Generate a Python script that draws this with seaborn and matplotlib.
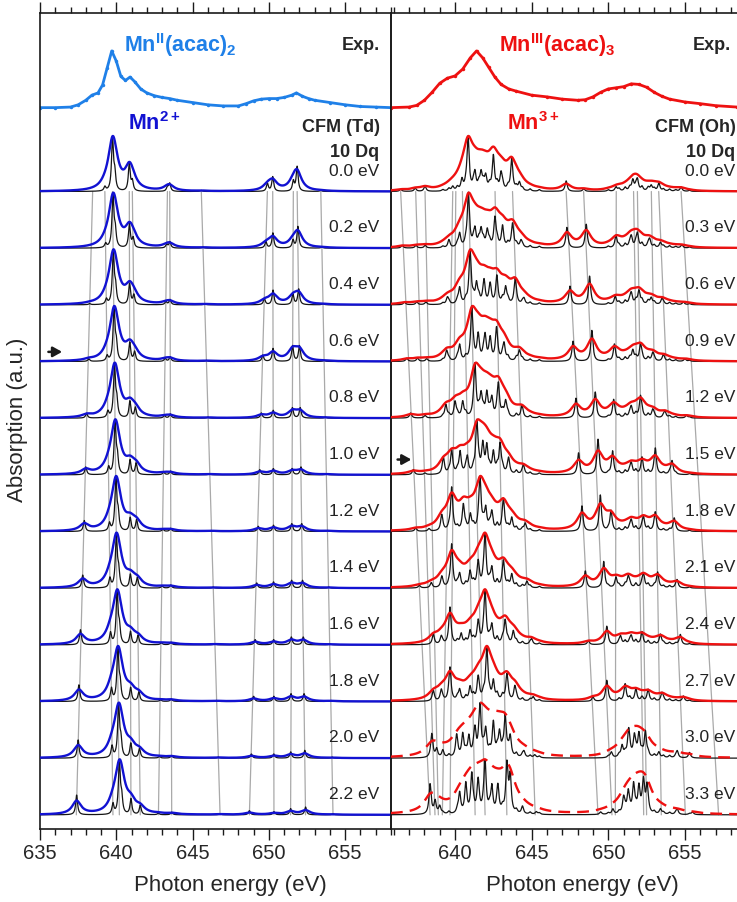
import numpy as np
import seaborn as sns
import matplotlib.pyplot as plt
from matplotlib.ticker import MultipleLocator

# ---------------- data ----------------
td_labels = ['0.0 eV', '0.2 eV', '0.4 eV', '0.6 eV', '0.8 eV', '1.0 eV',
             '1.2 eV', '1.4 eV', '1.6 eV', '1.8 eV', '2.0 eV', '2.2 eV']
oh_labels = ['0.0 eV', '0.3 eV', '0.6 eV', '0.9 eV', '1.2 eV', '1.5 eV',
             '1.8 eV', '2.1 eV', '2.4 eV', '2.7 eV', '3.0 eV', '3.3 eV']

# experimental spectra (normalised, read point by point)
exp2_e = [635, 636, 637, 637.5, 638, 638.4, 638.8, 639.1, 639.4, 639.7, 640.0, 640.3,
          640.6, 640.9, 641.2, 641.6, 642, 642.5, 643, 643.5, 644, 645, 646, 647, 648,
          648.5, 649, 649.5, 650, 650.5, 651, 651.5, 651.8, 652.2, 652.6, 653, 654,
          655, 656, 657, 658]
exp2_y = [0.0, 0.0, 0.01, 0.05, 0.13, 0.22, 0.26, 0.4, 0.7, 1.0, 0.82, 0.55,
          0.48, 0.54, 0.46, 0.33, 0.26, 0.21, 0.18, 0.16, 0.13, 0.09, 0.05, 0.03, 0.03,
          0.07, 0.12, 0.15, 0.16, 0.16, 0.18, 0.22, 0.26, 0.2, 0.16, 0.13, 0.09,
          0.05, 0.02, 0.01, 0.0]
exp3_e = [635.8, 637, 637.5, 638, 638.5, 639, 639.5, 640, 640.5, 641, 641.4, 641.8,
          642.2, 642.6, 643, 643.5, 644, 645, 646, 647, 648, 648.5, 649, 649.5, 650,
          650.5, 651, 651.5, 652, 652.5, 653, 653.5, 654, 655, 656, 657, 658.4]
exp3_y = [0.0, 0.01, 0.04, 0.13, 0.27, 0.43, 0.52, 0.56, 0.68, 0.88, 1.0, 0.88,
          0.71, 0.54, 0.41, 0.33, 0.29, 0.22, 0.19, 0.15, 0.13, 0.14, 0.19, 0.27, 0.33,
          0.35, 0.37, 0.42, 0.41, 0.36, 0.27, 0.2, 0.15, 0.1, 0.07, 0.035, 0.01]

# Td (Mn2+) multiplet lines: one row per 10Dq, one column per tracked line
td_pos = [
    [638.45, 639.25, 639.75, 639.90, 640.85, 641.05, 643.35, 643.50, 645.57, 649.90, 650.25, 651.60, 651.85, 653.40],
    [638.35, 639.30, 639.78, 639.93, 640.86, 641.10, 643.30, 643.51, 645.68, 649.80, 650.26, 651.58, 651.90, 653.47],
    [638.25, 639.35, 639.80, 639.95, 640.87, 641.15, 643.25, 643.52, 645.80, 649.70, 650.27, 651.57, 651.95, 653.55],
    [638.20, 639.40, 639.85, 640.00, 640.88, 641.20, 643.20, 643.53, 645.90, 649.60, 650.27, 651.55, 652.00, 653.62],
    [638.05, 639.45, 639.88, 640.03, 640.89, 641.25, 643.15, 643.54, 646.00, 649.50, 650.28, 651.54, 652.05, 653.70],
    [638.00, 639.50, 639.92, 640.07, 640.90, 641.30, 643.10, 643.55, 646.10, 649.40, 650.29, 651.52, 652.10, 653.77],
    [637.90, 639.55, 639.97, 640.12, 640.91, 641.33, 643.05, 643.56, 646.20, 649.30, 650.30, 651.50, 652.15, 653.85],
    [637.80, 639.58, 640.00, 640.15, 640.92, 641.38, 643.00, 643.57, 646.35, 649.20, 650.30, 651.49, 652.20, 653.92],
    [637.65, 639.62, 640.05, 640.20, 640.93, 641.43, 642.95, 643.58, 646.45, 649.10, 650.31, 651.47, 652.25, 654.00],
    [637.55, 639.68, 640.10, 640.25, 640.94, 641.48, 642.90, 643.60, 646.55, 649.00, 650.32, 651.45, 652.30, 654.07],
    [637.50, 639.72, 640.15, 640.30, 640.95, 641.52, 642.82, 643.62, 646.68, 648.85, 650.32, 651.43, 652.35, 654.15],
    [637.40, 639.78, 640.20, 640.35, 640.96, 641.57, 642.76, 643.63, 646.80, 648.72, 650.33, 651.42, 652.40, 654.20],
]
td_h = [
    [0.00, 0.08, 1.0, 0.30, 0.52, 0.18, 0.08, 0.15, 0.02, 0.15, 0.28, 0.19, 0.47, 0.02],
    [0.00, 0.08, 1.0, 0.30, 0.45, 0.18, 0.07, 0.12, 0.02, 0.12, 0.29, 0.15, 0.41, 0.02],
    [0.02, 0.10, 1.0, 0.30, 0.40, 0.18, 0.06, 0.10, 0.02, 0.12, 0.28, 0.20, 0.30, 0.02],
    [0.05, 0.10, 1.0, 0.30, 0.36, 0.18, 0.06, 0.09, 0.02, 0.12, 0.25, 0.30, 0.30, 0.02],
    [0.09, 0.12, 1.0, 0.30, 0.32, 0.20, 0.05, 0.08, 0.02, 0.10, 0.15, 0.20, 0.20, 0.02],
    [0.15, 0.14, 1.0, 0.30, 0.28, 0.22, 0.05, 0.07, 0.02, 0.10, 0.12, 0.12, 0.15, 0.02],
    [0.21, 0.15, 1.0, 0.30, 0.26, 0.22, 0.04, 0.06, 0.02, 0.10, 0.12, 0.15, 0.15, 0.02],
    [0.25, 0.18, 1.0, 0.30, 0.26, 0.20, 0.04, 0.06, 0.02, 0.10, 0.12, 0.15, 0.15, 0.02],
    [0.29, 0.22, 1.0, 0.30, 0.25, 0.18, 0.04, 0.05, 0.02, 0.10, 0.10, 0.15, 0.15, 0.02],
    [0.32, 0.24, 1.0, 0.30, 0.26, 0.18, 0.03, 0.05, 0.02, 0.10, 0.10, 0.15, 0.15, 0.02],
    [0.35, 0.22, 1.0, 0.30, 0.28, 0.18, 0.03, 0.05, 0.02, 0.08, 0.08, 0.12, 0.15, 0.02],
    [0.38, 0.20, 1.0, 0.30, 0.30, 0.18, 0.03, 0.05, 0.02, 0.08, 0.06, 0.12, 0.15, 0.02],
]

# Oh (Mn3+) multiplet lines, one row per 10Dq (rows have different lengths)
oh_pos = [
    [636.45, 637.4, 638.04, 639.85, 640.45, 640.85, 641.3, 641.7, 642.0, 642.5, 643.0, 643.7, 644.2, 647.25, 648.4, 650.5, 651.6, 651.9, 652.8, 653.3, 654.75],
    [636.55, 637.45, 638.05, 639.6, 640.3, 640.87, 641.3, 641.7, 642.1, 642.6, 643.1, 643.75, 644.3, 647.3, 648.56, 650.5, 651.5, 651.9, 652.7, 653.4, 654.8],
    [636.7, 637.5, 638.1, 639.5, 640.3, 640.98, 641.4, 641.9, 642.3, 642.72, 643.3, 643.92, 644.5, 647.5, 648.78, 650.45, 651.5, 652.0, 652.8, 653.5, 654.9],
    [636.85, 637.55, 638.15, 639.45, 640.3, 641.09, 641.5, 641.96, 642.3, 642.7, 643.2, 644.2, 647.7, 648.93, 650.4, 651.6, 652.1, 652.9, 653.6, 655.0],
    [637.1, 638.04, 639.4, 640.0, 640.5, 641.3, 641.7, 642.07, 642.4, 642.83, 643.3, 644.36, 647.89, 649.15, 650.35, 651.5, 652.1, 652.9, 653.7, 655.1],
    [637.28, 638.04, 639.24, 639.78, 640.33, 640.8, 641.42, 641.8, 642.07, 642.5, 642.94, 643.5, 644.47, 648.06, 649.33, 650.28, 651.5, 652.2, 653.07, 654.16],
    [637.43, 638.3, 639.13, 639.78, 640.54, 641.0, 641.63, 642.0, 642.4, 643.16, 643.7, 644.58, 648.28, 649.48, 650.18, 651.5, 652.3, 653.07, 654.3],
    [637.67, 638.45, 639.13, 639.78, 640.3, 640.98, 641.5, 641.96, 642.4, 643.16, 643.7, 644.69, 648.5, 649.7, 650.5, 651.3, 652.3, 653.22, 654.49],
    [638.58, 639.1, 639.67, 640.4, 640.98, 641.5, 641.96, 642.4, 643.27, 643.8, 645.0, 648.7, 649.9, 650.8, 651.5, 652.2, 653.4, 654.7],
    [638.58, 639.1, 639.67, 640.3, 640.98, 641.5, 642.07, 642.5, 643.38, 643.9, 645.1, 649.0, 649.9, 651.1, 651.8, 652.6, 653.5, 654.9],
    [638.48, 638.8, 639.2, 640.1, 640.5, 640.9, 641.3, 641.63, 642.0, 642.5, 642.9, 643.27, 643.6, 644.5, 645.2, 650.2, 650.9, 651.33, 651.7, 652.0, 652.42, 653.3, 654.5, 655.3],
    [638.37, 638.7, 639.0, 640.3, 640.7, 641.09, 641.5, 641.96, 642.4, 642.8, 643.38, 643.6, 644.4, 645.3, 649.5, 650.3, 651.0, 651.3, 651.65, 652.0, 652.3, 652.53, 653.4, 654.5, 655.5],
]
oh_h = [
    [0.04, 0.06, 0.1, 0.08, 0.2, 1.0, 0.3, 0.3, 0.25, 0.65, 0.3, 0.6, 0.15, 0.2, 0.05, 0.08, 0.2, 0.2, 0.1, 0.15, 0.08],
    [0.05, 0.05, 0.05, 0.1, 0.25, 1.0, 0.3, 0.3, 0.3, 0.54, 0.3, 0.45, 0.12, 0.39, 0.45, 0.23, 0.2, 0.25, 0.15, 0.1, 0.06],
    [0.05, 0.05, 0.05, 0.12, 0.3, 1.0, 0.35, 0.35, 0.3, 0.42, 0.3, 0.45, 0.1, 0.35, 0.54, 0.15, 0.2, 0.25, 0.12, 0.1, 0.05],
    [0.06, 0.06, 0.05, 0.2, 0.3, 1.0, 0.4, 0.45, 0.35, 0.54, 0.3, 0.2, 0.39, 0.6, 0.33, 0.2, 0.3, 0.15, 0.1, 0.05],
    [0.1, 0.05, 0.25, 0.3, 0.3, 1.0, 0.4, 0.45, 0.35, 0.6, 0.3, 0.2, 0.39, 0.51, 0.36, 0.2, 0.4, 0.15, 0.12, 0.05],
    [0.1, 0.03, 0.3, 0.45, 0.42, 0.3, 0.97, 0.45, 0.5, 0.4, 0.55, 0.25, 0.15, 0.42, 0.68, 0.45, 0.2, 0.25, 0.48, 0.26],
    [0.06, 0.05, 0.3, 0.85, 0.5, 0.3, 0.97, 0.4, 0.35, 0.56, 0.25, 0.15, 0.5, 0.71, 0.4, 0.2, 0.25, 0.35, 0.25],
    [0.05, 0.1, 0.2, 0.83, 0.25, 0.3, 0.4, 0.98, 0.35, 0.45, 0.25, 0.12, 0.33, 0.51, 0.2, 0.2, 0.25, 0.3, 0.15],
    [0.2, 0.15, 0.7, 0.2, 0.25, 0.35, 1.0, 0.35, 0.45, 0.25, 0.1, 0.08, 0.35, 0.15, 0.15, 0.17, 0.2, 0.2],
    [0.2, 0.2, 0.6, 0.2, 0.25, 0.35, 0.97, 0.35, 0.45, 0.25, 0.08, 0.08, 0.38, 0.25, 0.15, 0.15, 0.15, 0.1],
    [0.43, 0.15, 0.1, 0.35, 0.4, 0.35, 0.45, 0.84, 0.45, 0.6, 0.4, 0.7, 0.35, 0.1, 0.05, 0.1, 0.2, 0.46, 0.35, 0.4, 0.45, 0.1, 0.12, 0.08],
    [0.59, 0.25, 0.15, 0.4, 0.5, 0.73, 0.55, 0.97, 0.5, 0.45, 0.9, 0.7, 0.1, 0.05, 0.05, 0.1, 0.3, 0.4, 0.55, 0.5, 0.6, 0.5, 0.1, 0.1, 0.05],
]
# weak multiplet structure present in every Oh spectrum
oh_fine_pos = [639.2, 639.6, 640.15, 640.7, 641.2, 641.55, 641.85, 642.25, 642.75, 643.1,
               643.45, 644.0, 644.4, 644.9, 645.5, 650.0, 650.7, 651.1, 651.4, 651.8,
               652.2, 652.6, 653.0, 653.6, 654.0, 654.4, 655.3]
oh_fine_h = [0.03, 0.05, 0.07, 0.08, 0.1, 0.12, 0.12, 0.1, 0.12, 0.1,
             0.08, 0.07, 0.05, 0.04, 0.03, 0.03, 0.05, 0.07, 0.07, 0.08,
             0.08, 0.07, 0.05, 0.04, 0.04, 0.03, 0.02]

# grey guide lines: position at the first and last spectrum
td_grey_top = [638.45, 639.25, 639.75, 640.85, 641.05, 643.35, 643.5, 645.57, 649.9, 650.25, 651.6, 651.85, 653.4]
td_grey_bot = [637.38, 639.78, 640.2, 640.96, 641.57, 642.76, 643.63, 646.8, 648.72, 650.33, 651.42, 652.4, 654.2]
oh_grey_top = [636.45, 637.43, 638.04, 639.85, 640.05, 640.48, 640.87, 642.61, 643.75, 647.25, 648.39, 650.52, 651.65, 651.9, 652.81, 653.29, 654.75]
oh_grey_bot = [638.37, 638.69, 638.91, 639.17, 639.67, 641.31, 641.96, 643.38, 645.23, 649.33, 650.24, 650.46, 652.31, 652.5, 653.46, 655.03, 657.2]

# ---------------- style ----------------
sns.set_theme(style='white')
plt.rcParams['font.family'] = ['Liberation Sans', 'DejaVu Sans']
plt.rcParams['mathtext.fontset'] = 'custom'
plt.rcParams['mathtext.rm'] = 'Liberation Sans'
plt.rcParams['mathtext.bf'] = 'Liberation Sans:bold'

c_exp2 = '#1f80e8'
c_td = '#1212d2'
c_red = '#ee1111'
c_grey = '#a9a9a9'

egrid = np.arange(634.5, 659.0, 0.004)


def lor(pos, h, g, p=1.0):
    s = np.zeros_like(egrid)
    for x0, a in zip(pos, h):
        s += a ** p * g**2 / ((egrid - x0)**2 + g**2)
    return s


def base(k):
    return 0.25 + (11 - k)


exp_base = 12.73

fig = plt.figure(figsize=(7.37, 9.02), dpi=100)
axL = fig.add_axes([40 / 737, 1 - 829 / 902, 351 / 737, 816 / 902])
axR = fig.add_axes([391 / 737, 1 - 829 / 902, 346 / 737, 816 / 902])


def draw_panel(ax, pos_rows, h_rows, labels, col, lab_x, g_s, g_b, p_b,
               dashed_from=99, g_dash=0.5, fine_pos=(), fine_h=()):
    for k, (pos, h) in enumerate(zip(pos_rows, h_rows)):
        pp = list(pos) + list(fine_pos)
        hh = list(h) + list(fine_h)
        sharp = lor(pp, hh, g_s)
        dashed = k >= dashed_from
        broad = lor(pp, hh, g_dash if dashed else g_b, p=p_b)
        sns.lineplot(x=egrid, y=base(k) + 0.98 * sharp / sharp.max(), ax=ax,
                     color='#151515', lw=0.9, estimator=None, sort=False, zorder=3)
        ls = (0, (5, 3)) if dashed else '-'
        sns.lineplot(x=egrid, y=base(k) + 0.98 * broad / broad.max(), ax=ax,
                     color=col, lw=1.7, linestyle=ls, estimator=None, sort=False, zorder=4)
        ax.text(lab_x, base(k) + 0.36, labels[k], ha='right', va='center',
                fontsize=12.5, color='#222222', clip_on=False, zorder=5)


# grey guides
for t, b in zip(td_grey_top, td_grey_bot):
    axL.plot([t, b], [base(0), base(11)], color=c_grey, lw=0.9, zorder=1)
for t, b in zip(oh_grey_top, oh_grey_bot):
    axR.plot([t, b], [base(0), base(11)], color=c_grey, lw=0.9, zorder=1)

draw_panel(axL, td_pos, td_h, td_labels, c_td, 657.25, 0.075, 0.35, 1.2)
draw_panel(axR, oh_pos, oh_h, oh_labels, c_red, 658.3, 0.085, 0.38, 1.1,
           dashed_from=10, g_dash=0.5, fine_pos=oh_fine_pos, fine_h=oh_fine_h)

# experiments
sns.lineplot(x=exp2_e, y=exp_base + np.array(exp2_y), ax=axL, color=c_exp2, lw=2.0,
             marker='o', markersize=2.5, markeredgewidth=0, estimator=None, sort=False)
sns.lineplot(x=exp3_e, y=exp_base + np.array(exp3_y), ax=axR, color=c_red, lw=2.0,
             marker='o', markersize=2.5, markeredgewidth=0, estimator=None, sort=False)

# annotations
axL.text(644.2, 13.83, r'Mn$^{\mathbf{II}}$(acac)$_{\mathbf{2}}$', color=c_exp2,
         fontsize=15.5, fontweight='bold', ha='center', va='center')
axL.text(657.25, 13.83, 'Exp.', fontsize=13, fontweight='bold', ha='right', va='center')
axL.text(642.5, 12.45, r'Mn$^{\mathbf{2+}}$', color=c_td, fontsize=15.5,
         fontweight='bold', ha='center', va='center')
axL.text(657.25, 12.38, 'CFM (Td)', fontsize=13, fontweight='bold', ha='right', va='center')
axL.text(657.25, 11.94, '10 Dq', fontsize=13, fontweight='bold', ha='right', va='center')

axR.text(646.7, 13.83, r'Mn$^{\mathbf{III}}$(acac)$_{\mathbf{3}}$', color=c_red,
         fontsize=15.5, fontweight='bold', ha='center', va='center')
axR.text(658.0, 13.83, 'Exp.', fontsize=13, fontweight='bold', ha='right', va='center')
axR.text(645.1, 12.45, r'Mn$^{\mathbf{3+}}$', color=c_red, fontsize=15.5,
         fontweight='bold', ha='center', va='center')
axR.text(658.3, 12.38, 'CFM (Oh)', fontsize=13, fontweight='bold', ha='right',
         va='center', clip_on=False)
axR.text(658.3, 11.94, '10 Dq', fontsize=13, fontweight='bold', ha='right',
         va='center', clip_on=False)

arrow = dict(arrowstyle='-|>,head_length=0.45,head_width=0.25', color='k', lw=1.8,
             mutation_scale=12, shrinkA=0, shrinkB=0)
axL.annotate('', xy=(636.45, base(3) + 0.17), xytext=(635.55, base(3) + 0.17), arrowprops=arrow)
axR.annotate('', xy=(637.15, base(5) + 0.27), xytext=(636.25, base(5) + 0.27), arrowprops=arrow)

# axes cosmetics
for ax, lo, hi in [(axL, 635, 658), (axR, 635.82, 658.4)]:
    ax.set_ylim(0, 14.4)
    ax.set_xticks([635, 640, 645, 650, 655])
    ax.set_xlim(lo, hi)
    ax.xaxis.set_minor_locator(MultipleLocator(1))
    ax.set_yticks([])
    ax.tick_params(axis='x', which='both', direction='out', top=True, bottom=True,
                   labeltop=False, labelsize=14.5, color='k', width=1.0, pad=3)
    ax.tick_params(axis='x', which='major', length=8)
    ax.tick_params(axis='x', which='minor', length=4.5)
    ax.set_xlabel('')
    ax.set_ylabel('')
    for s in ax.spines.values():
        s.set_color('k')
        s.set_linewidth(1.2)
    ax.set_facecolor('none')
axR.spines['right'].set_visible(False)

fig.text(230 / 737, 1 - 885 / 902, 'Photon energy (eV)', ha='center', va='center', fontsize=16)
fig.text(582 / 737, 1 - 885 / 902, 'Photon energy (eV)', ha='center', va='center', fontsize=16)
fig.text(18 / 737, 1 - 420 / 902, 'Absorption (a.u.)', ha='center', va='center',
         rotation=90, fontsize=16)

fig.savefig('out.png', dpi=100)
